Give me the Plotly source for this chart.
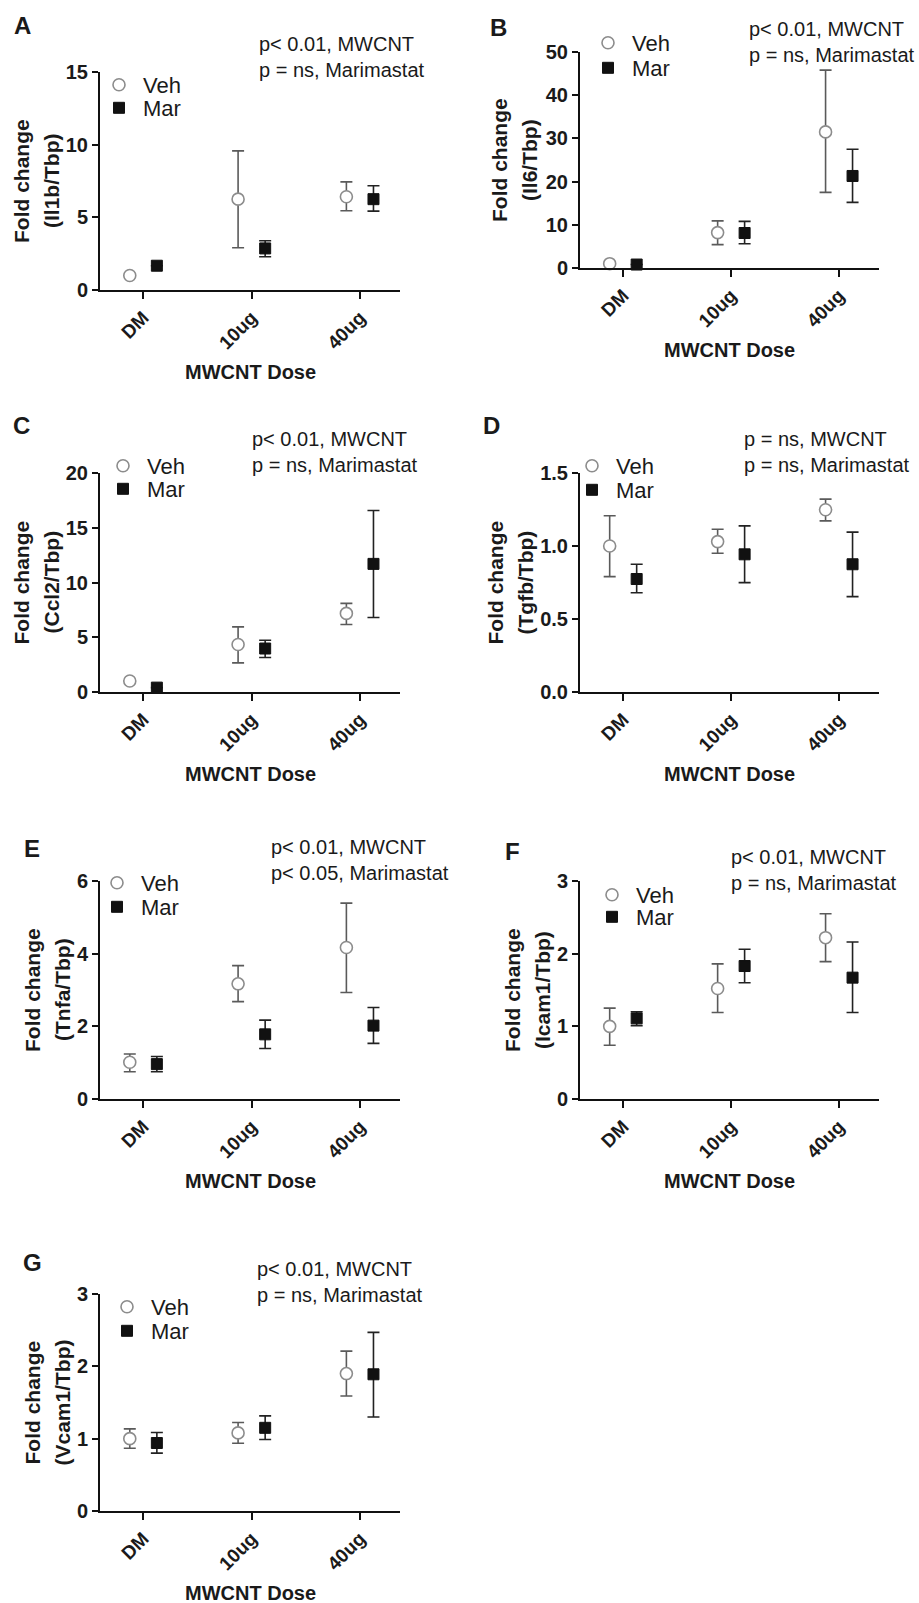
import plotly.graph_objects as go

W, H = 919, 1603

# ---------------- DATA ----------------
categories = ["DM", "10ug", "40ug"]
groups = ["Veh", "Mar"]

# Panel A: Il1b/Tbp
il1b_veh = [1.0, 6.25, 6.42]
il1b_veh_hi = [1.0, 9.57, 7.44]
il1b_veh_lo = [1.0, 2.91, 5.45]
il1b_mar = [1.67, 2.86, 6.25]
il1b_mar_hi = [1.67, 3.39, 7.17]
il1b_mar_lo = [1.67, 2.29, 5.43]

# Panel B: Il6/Tbp
il6_veh = [1.0, 8.2, 31.5]
il6_veh_hi = [1.0, 10.9, 45.8]
il6_veh_lo = [1.0, 5.4, 17.5]
il6_mar = [0.8, 8.1, 21.3]
il6_mar_hi = [0.8, 10.8, 27.5]
il6_mar_lo = [0.8, 5.6, 15.2]

# Panel C: Ccl2/Tbp
ccl2_veh = [1.0, 4.34, 7.18]
ccl2_veh_hi = [1.0, 5.95, 8.09]
ccl2_veh_lo = [1.0, 2.66, 6.17]
ccl2_mar = [0.4, 3.97, 11.7]
ccl2_mar_hi = [0.4, 4.73, 16.58]
ccl2_mar_lo = [0.4, 3.15, 6.81]

# Panel D: Tgfb/Tbp
tgfb_veh = [1.0, 1.03, 1.248]
tgfb_veh_hi = [1.207, 1.115, 1.321]
tgfb_veh_lo = [0.79, 0.95, 1.172]
tgfb_mar = [0.774, 0.943, 0.875]
tgfb_mar_hi = [0.875, 1.138, 1.095]
tgfb_mar_lo = [0.68, 0.749, 0.653]

# Panel E: Tnfa/Tbp
tnfa_veh = [1.01, 3.17, 4.17]
tnfa_veh_hi = [1.24, 3.67, 5.39]
tnfa_veh_lo = [0.75, 2.68, 2.93]
tnfa_mar = [0.96, 1.78, 2.02]
tnfa_mar_hi = [1.17, 2.17, 2.52]
tnfa_mar_lo = [0.75, 1.39, 1.53]

# Panel F: Icam1/Tbp
icam1_veh = [1.0, 1.52, 2.22]
icam1_veh_hi = [1.25, 1.86, 2.55]
icam1_veh_lo = [0.74, 1.19, 1.89]
icam1_mar = [1.11, 1.83, 1.67]
icam1_mar_hi = [1.2, 2.06, 2.16]
icam1_mar_lo = [1.01, 1.60, 1.19]

# Panel G: Vcam1/Tbp
vcam1_veh = [1.0, 1.08, 1.90]
vcam1_veh_hi = [1.135, 1.223, 2.21]
vcam1_veh_lo = [0.868, 0.937, 1.59]
vcam1_mar = [0.94, 1.15, 1.89]
vcam1_mar_hi = [1.085, 1.315, 2.47]
vcam1_mar_lo = [0.80, 0.988, 1.30]

letters = ["A", "B", "C", "D", "E", "F", "G"]
genes = ["Il1b", "Il6", "Ccl2", "Tgfb", "Tnfa", "Icam1", "Vcam1"]
mwcnt_p = ["p< 0.01", "p< 0.01", "p< 0.01", "p = ns", "p< 0.01", "p< 0.01", "p< 0.01"]
mari_p = ["p = ns", "p = ns", "p = ns", "p = ns", "p< 0.05", "p = ns", "p = ns"]
y_max = [15, 50, 20, 1.5, 6, 3, 3]
y_step = [5, 10, 5, 0.5, 2, 1, 1]

series = [
    (il1b_veh, il1b_veh_hi, il1b_veh_lo, il1b_mar, il1b_mar_hi, il1b_mar_lo),
    (il6_veh, il6_veh_hi, il6_veh_lo, il6_mar, il6_mar_hi, il6_mar_lo),
    (ccl2_veh, ccl2_veh_hi, ccl2_veh_lo, ccl2_mar, ccl2_mar_hi, ccl2_mar_lo),
    (tgfb_veh, tgfb_veh_hi, tgfb_veh_lo, tgfb_mar, tgfb_mar_hi, tgfb_mar_lo),
    (tnfa_veh, tnfa_veh_hi, tnfa_veh_lo, tnfa_mar, tnfa_mar_hi, tnfa_mar_lo),
    (icam1_veh, icam1_veh_hi, icam1_veh_lo, icam1_mar, icam1_mar_hi, icam1_mar_lo),
    (vcam1_veh, vcam1_veh_hi, vcam1_veh_lo, vcam1_mar, vcam1_mar_hi, vcam1_mar_lo),
]

# ---------------- LAYOUT GEOMETRY (pixels) ----------------
# plot boxes: (left, right, top, bottom)
boxes = [(100, 400, 72, 290), (580, 879, 52, 268),
         (100, 400, 473, 692), (580, 879, 473, 692),
         (100, 400, 881, 1099), (580, 879, 881, 1099),
         (100, 400, 1294, 1511)]
letter_pos = [(22, 25), (498, 27), (21, 425), (492, 425), (32, 848), (512, 852), (32, 1262)]
pval_pos = [(257, 57), (747, 42), (250, 452), (742, 452), (269, 860), (729, 870), (255, 1282)]
legend_pos = [((119, 85), (119, 108)), ((608, 43), (608, 68)),
              ((123, 466), (123, 489)), ((592, 466), (592, 490)),
              ((117, 883), (117, 907)), ((612, 895), (612, 917)),
              ((127, 1307), (127, 1331))]
ytitle_off = [64, 65, 64, 70, 53, 53, 53]

FONT = "Arial, Liberation Sans, Helvetica, sans-serif"
TXT = "#1a1a1a"
X_OFF = 0.125


def pxx(x):
    return x / W


def pxy(y):
    return 1 - y / H


fig = go.Figure()
annotations = []
layout_extra = {}
leg_n = 0

for i in range(7):
    n = i + 1
    xa = "x" if n == 1 else f"x{n}"
    ya = "y" if n == 1 else f"y{n}"
    veh, veh_hi, veh_lo, mar, mar_hi, mar_lo = series[i]
    pos = list(range(len(categories)))

    legs = []
    for g, (mean, hi, lo) in enumerate([(veh, veh_hi, veh_lo), (mar, mar_hi, mar_lo)]):
        leg_n += 1
        legname = "legend" if leg_n == 1 else f"legend{leg_n}"
        legs.append(legname)
        off = -X_OFF if g == 0 else X_OFF
        if g == 0:
            marker = dict(symbol="circle", size=12, color="white",
                          line=dict(color="#8c8c8c", width=1.6))
            ecol = "#5a5a5a"
        else:
            marker = dict(symbol="square", size=11, color="#111111",
                          line=dict(color="#111111", width=1))
            ecol = "#222222"
        fig.add_trace(go.Scatter(
            x=[p + off for p in pos], y=mean, mode="markers", name=groups[g],
            marker=marker, xaxis=xa, yaxis=ya, cliponaxis=False,
            legend=legname, showlegend=True,
            error_y=dict(type="data", symmetric=False,
                         array=[h - m for h, m in zip(hi, mean)],
                         arrayminus=[m - l for m, l in zip(mean, lo)],
                         color=ecol, thickness=1.6, width=6),
        ))

    l, r, t, b = boxes[i]
    xkey = "xaxis" if n == 1 else f"xaxis{n}"
    ykey = "yaxis" if n == 1 else f"yaxis{n}"
    layout_extra[xkey] = dict(
        domain=[pxx(l), pxx(r)], anchor=ya, range=[-0.4, 2.37], automargin=False,
        tickmode="array", tickvals=pos, ticktext=categories, tickangle=-45,
        ticks="outside", ticklen=7, tickwidth=2, tickcolor="#111",
        showline=True, linewidth=2, linecolor="#111", showgrid=False, zeroline=False,
        tickfont=dict(family=FONT, size=19, color=TXT, weight="bold"),
    )
    layout_extra[ykey] = dict(
        domain=[pxy(b), pxy(t)], anchor=xa, range=[0, y_max[i]], automargin=False,
        tick0=0, dtick=y_step[i], tickformat=".1f" if y_step[i] < 1 else "d",
        ticks="outside", ticklen=6, tickwidth=2, tickcolor="#111",
        showline=True, linewidth=2, linecolor="#111", showgrid=False, zeroline=False,
        tickfont=dict(family=FONT, size=20, color=TXT, weight="bold"),
    )

    # legends (one per series for precise placement)
    for g in range(2):
        mx, my = legend_pos[i][g]
        layout_extra[legs[g]] = dict(
            x=pxx(mx - 24), y=pxy(my), xanchor="left", yanchor="middle",
            bgcolor="rgba(0,0,0,0)", borderwidth=0, itemwidth=38,
            font=dict(family=FONT, size=22, color=TXT),
        )

    # panel letter
    annotations.append(dict(x=pxx(letter_pos[i][0]), y=pxy(letter_pos[i][1]), xref="paper", yref="paper",
                            text=letters[i], showarrow=False, xanchor="center", yanchor="middle",
                            font=dict(family=FONT, size=24, color=TXT, weight="bold")))
    # p-value text
    annotations.append(dict(x=pxx(pval_pos[i][0]), y=pxy(pval_pos[i][1]), xref="paper", yref="paper",
                            text=f"{mwcnt_p[i]}, MWCNT<br>{mari_p[i]}, Marimastat",
                            showarrow=False, xanchor="left", yanchor="middle", align="left",
                            font=dict(family=FONT, size=20, color=TXT)))
    # y title (two lines)
    yc = l - ytitle_off[i]
    for k, line in enumerate(["Fold change", f"({genes[i]}/Tbp)"]):
        annotations.append(dict(x=pxx(yc - 15 + 30 * k), y=pxy((t + b) / 2), xref="paper", yref="paper",
                                text=line, textangle=-90,
                                showarrow=False, xanchor="center", yanchor="middle",
                                font=dict(family=FONT, size=21, color=TXT, weight="bold")))
    # x title
    annotations.append(dict(x=pxx((l + r) / 2), y=pxy(b + 82), xref="paper", yref="paper",
                            text="MWCNT Dose", showarrow=False, xanchor="center", yanchor="middle",
                            font=dict(family=FONT, size=20, color=TXT, weight="bold")))

fig.update_layout(
    width=W, height=H, autosize=False,
    margin=dict(l=0, r=0, t=0, b=0, autoexpand=False),
    paper_bgcolor="white", plot_bgcolor="white",
    annotations=annotations,
    **layout_extra,
)

fig.write_html("out.html", config={"displayModeBar": False},
               post_script="document.body.style.margin='0';")
